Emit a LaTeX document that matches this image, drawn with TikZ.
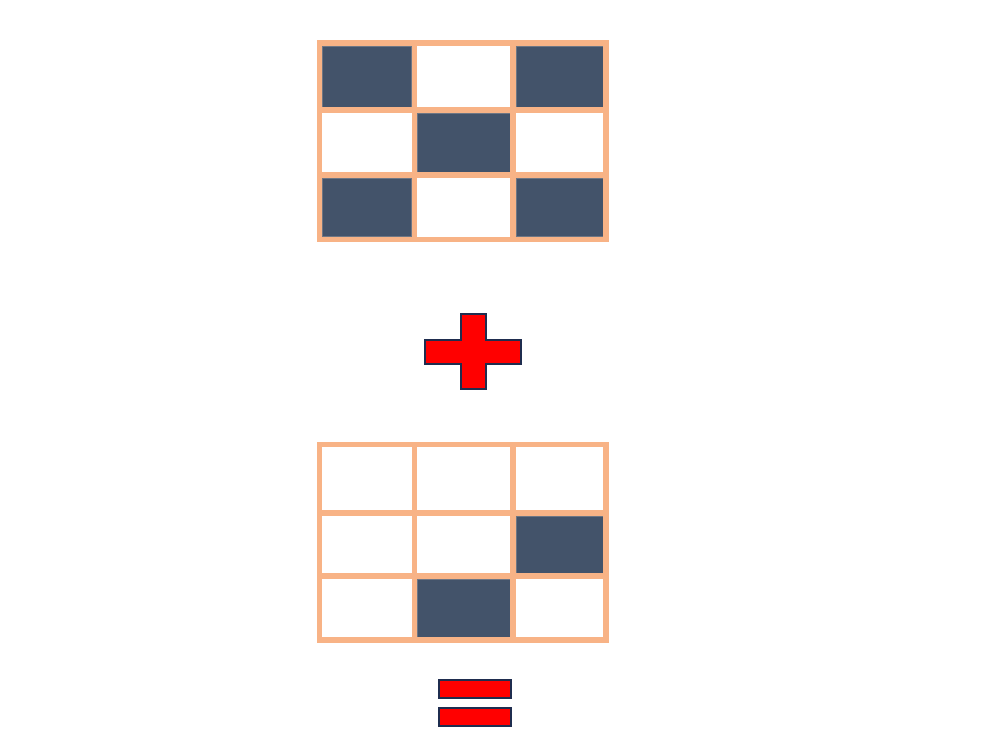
\documentclass[tikz,border=0pt]{standalone}
\definecolor{gridline}{RGB}{248,179,134}
\definecolor{cellfill}{RGB}{67,83,106}
\definecolor{cellrim}{RGB}{110,118,132}
\definecolor{signred}{RGB}{255,0,0}
\definecolor{signrim}{RGB}{31,45,79}
\begin{document}
\begin{tikzpicture}[x=1pt,y=-1pt,
  gridstyle/.style={draw=gridline,line width=5.5pt},
  darkcell/.style={fill=cellfill,draw=cellrim,line width=0.8pt},
  signshape/.style={fill=signred,draw=signrim,line width=2pt,line join=miter}]
\useasboundingbox (0,0) rectangle (1000,729);
% top grid: x centres 319.5,414.5,513,606 ; y centres 43,110,175,239.5
\draw[darkcell] (322.5,46) rectangle (411.5,107);
\draw[darkcell] (516,46) rectangle (603,107);
\draw[darkcell] (417.5,113) rectangle (510,172);
\draw[darkcell] (322.5,178) rectangle (411.5,236.5);
\draw[darkcell] (516,178) rectangle (603,236.5);
\draw[gridstyle] (319.5,43) rectangle (606,239.5);
\draw[gridstyle] (414.5,43) -- (414.5,239.5);
\draw[gridstyle] (513,43) -- (513,239.5);
\draw[gridstyle] (319.5,110) -- (606,110);
\draw[gridstyle] (319.5,175) -- (606,175);
% plus sign
\draw[signshape] (461,314) -- (486,314) -- (486,340) -- (521,340) -- (521,364)
  -- (486,364) -- (486,389) -- (461,389) -- (461,364) -- (425,364) -- (425,340)
  -- (461,340) -- cycle;
% bottom grid: y centres 444.5,513,576,640
\draw[darkcell] (516,516) rectangle (603,573);
\draw[darkcell] (417.5,579) rectangle (510,637);
\draw[gridstyle] (319.5,444.5) rectangle (606,640);
\draw[gridstyle] (414.5,444.5) -- (414.5,640);
\draw[gridstyle] (513,444.5) -- (513,640);
\draw[gridstyle] (319.5,513) -- (606,513);
\draw[gridstyle] (319.5,576) -- (606,576);
% equals sign
\draw[signshape] (439,680) rectangle (511,698);
\draw[signshape] (439,708) rectangle (511,726);
\end{tikzpicture}
\end{document}
